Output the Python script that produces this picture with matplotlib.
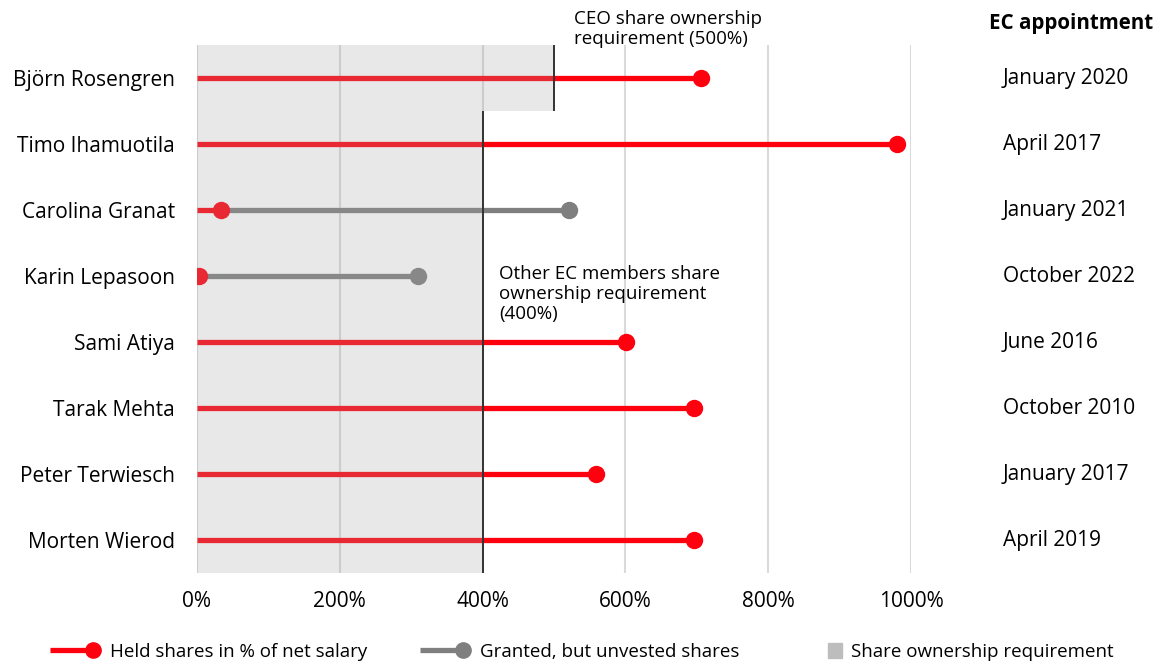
import matplotlib
matplotlib.use("Agg")
import matplotlib.pyplot as plt
import numpy as np
from matplotlib.lines import Line2D
from matplotlib.patches import Patch
from matplotlib.legend_handler import HandlerBase
from matplotlib.transforms import blended_transform_factory

plt.rcParams["font.family"] = ["Open Sans", "DejaVu Sans"]

members = [
    "Björn Rosengren", "Timo Ihamuotila", "Carolina Granat", "Karin Lepasoon",
    "Sami Atiya", "Tarak Mehta", "Peter Terwiesch", "Morten Wierod",
]
appointed = [
    "January 2020", "April 2017", "January 2021", "October 2022",
    "June 2016", "October 2010", "January 2017", "April 2019",
]
held_pct = [706, 980, 34, 3, 601, 696, 559, 696]
unvested_pct = [0, 0, 487, 307, 0, 0, 0, 0]
requirement_pct = [500, 400, 400, 400, 400, 400, 400, 400]
xticks = [0, 200, 400, 600, 800, 1000]

RED = "#FF000F"
GREY = "#7F7F7F"
FS = 15


class LollipopHandler(HandlerBase):
    """Legend key: a stem with the dot at its right end."""

    def create_artists(self, legend, orig_handle, xdescent, ydescent,
                       width, height, fontsize, trans):
        y = height / 2 - ydescent
        c = orig_handle.get_color()
        stem = Line2D([-xdescent, width - xdescent], [y, y], color=c,
                      lw=orig_handle.get_linewidth(), solid_capstyle="butt",
                      transform=trans)
        dot = Line2D([width - xdescent], [y], color=c, marker="o",
                     ms=orig_handle.get_markersize(), ls="none", transform=trans)
        return [stem, dot]


fig = plt.figure(figsize=(11.64, 6.66), dpi=100)
ax = fig.add_axes([0.1692, 0.1396, 0.6134, 0.7928])

rows = np.arange(len(members))

for x in xticks:
    ax.axvline(x, color="#DADADA", lw=1.5, zorder=0.5)

# held shares: red stem + dot, unvested grants continue in grey
for i in rows:
    ax.plot([0, held_pct[i]], [i, i], color=RED, lw=3.8, solid_capstyle="butt", zorder=2)
    if unvested_pct[i] > 0:
        end = held_pct[i] + unvested_pct[i]
        ax.plot([held_pct[i], end], [i, i], color=GREY, lw=3.8,
                solid_capstyle="butt", zorder=2)
        ax.plot(end, i, "o", color=GREY, ms=11.5, zorder=3)
    ax.plot(held_pct[i], i, "o", color=RED, ms=11.5, zorder=3.5)

# requirement band as a translucent overlay
ys, xs = [], []
for i in rows:
    ys += [i - 0.5, i + 0.5]
    xs += [requirement_pct[i], requirement_pct[i]]
ax.fill_betweenx(ys, 0, xs, color="#A4A4A4", alpha=0.25, lw=0, zorder=4)
for i in rows:
    ax.vlines(requirement_pct[i], i - 0.5, i + 0.5, color="#333333", lw=1.4, zorder=5)

ax.set_xlim(0, 1000)
ax.set_ylim(len(members) - 0.5, -0.5)
ax.set_xticks(xticks)
ax.set_xticklabels([f"{x}%" for x in xticks], fontsize=FS)
ax.set_yticks(rows)
ax.set_yticklabels(members, fontsize=FS)
ax.tick_params(axis="both", length=0)
ax.tick_params(axis="y", pad=16)
ax.tick_params(axis="x", pad=13)
for s in ax.spines.values():
    s.set_visible(False)

ax.text(528, -0.74, "CEO share ownership\nrequirement (500%)", fontsize=13.5,
        ha="left", va="center", linespacing=1.15, clip_on=False)
ax.text(423, 3.27, "Other EC members share\nownership requirement\n(400%)", fontsize=13.5,
        ha="left", va="center", linespacing=1.15)

tr = blended_transform_factory(fig.transFigure, ax.transData)
ax.text(1153 / 1164, -0.82, "EC appointment", transform=tr, fontsize=14.8,
        fontweight="bold", ha="right", va="center")
for i in rows:
    ax.text(1003 / 1164, i, appointed[i], transform=tr, fontsize=FS,
            ha="left", va="center")

# legend, one block per entry
held_handle = Line2D([], [], color=RED, lw=3.8, ms=11)
grey_handle = Line2D([], [], color=GREY, lw=3.8, ms=11)
req_handle = Patch(color="#BDBDBD")
common = dict(frameon=False, fontsize=13.5, loc="center left",
              borderaxespad=0, borderpad=0)
ly = 1 - 652 / 666
fig.legend([held_handle], ["Held shares in % of net salary"], handlelength=2.3,
           handletextpad=0.9, handler_map={Line2D: LollipopHandler()},
           bbox_to_anchor=(50 / 1164, ly), **common)
fig.legend([grey_handle], ["Granted, but unvested shares"], handlelength=2.3,
           handletextpad=0.9, handler_map={Line2D: LollipopHandler()},
           bbox_to_anchor=(420 / 1164, ly), **common)
fig.legend([req_handle], ["Share ownership requirement"], handlelength=0.75,
           handleheight=0.9, handletextpad=0.5,
           bbox_to_anchor=(828 / 1164, ly), **common)

fig.savefig("out.png", dpi=100)
